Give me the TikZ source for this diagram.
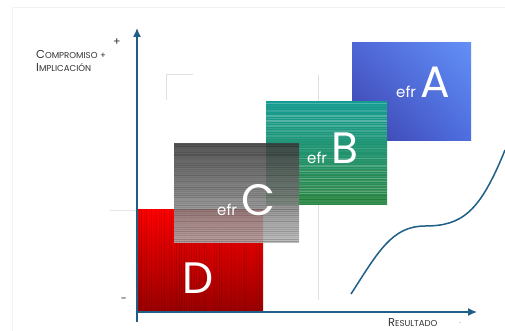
\documentclass[tikz,border=0pt]{standalone}
\usepackage{fontspec}
\setmainfont{Poppins}
\usetikzlibrary{arrows.meta,shadings}
\definecolor{axisc}{HTML}{1F5F85}
\definecolor{aUL}{HTML}{4F66D6}
\definecolor{aUR}{HTML}{6290F6}
\definecolor{aLL}{HTML}{3A3FA8}
\definecolor{aLR}{HTML}{4E6EE0}
\definecolor{bTop}{HTML}{149C92}
\definecolor{bBot}{HTML}{2C8846}
\definecolor{cTop}{HTML}{3E3E3E}
\definecolor{cBot}{HTML}{B4B4B4}
\definecolor{dTop}{HTML}{FF0000}
\definecolor{dBot}{HTML}{9A0000}
\newcommand{\fsc}[2]{{\fontsize{11.5}{12}\selectfont #1}{\fontsize{8.6}{9}\selectfont #2}}
\tikzset{
  panel/.style={inner sep=0pt, outer sep=0pt, draw=none},
  efrtxt/.style={text=white, inner sep=0pt, anchor=base west, font=\fontsize{15}{15}\selectfont},
  bigtxt/.style={text=white, inner sep=0pt, anchor=base west, font=\fontsize{44}{44}\selectfont},
  axis/.style={draw=axisc, line width=1.3pt, -{Latex[length=9pt,width=8pt]}},
  faint/.style={draw=black!12, line width=1pt},
  lbl/.style={inner sep=0pt, text=black!80, align=left}
}
\begin{document}
\begin{tikzpicture}[x=1pt,y=-1pt]
\useasboundingbox (0,0) rectangle (505,331);
\fill[white] (0,0) rectangle (505,331);
% faint frame and background marks
\draw[black!5] (12,331) -- (12,7) -- (505,7);
\draw[faint] (166,100) -- (166,75) -- (193,75);
\draw[faint] (318,75) -- (318,300);
\draw[black!10] (110,210) -- (137,210);
% box A
\node[panel, minimum width=119pt, minimum height=98pt, shading=bilinear interpolation,
  upper left=aUL, upper right=aUR, lower left=aLL, lower right=aLR] (A) at (411.5,92) {};
% box B
\node[panel, minimum width=121pt, minimum height=102pt, top color=bTop, bottom color=bBot] (B) at (326.5,153) {};
\pgfmathsetseed{7}
\foreach \y in {103.5,106,...,203.5}{
  \pgfmathsetmacro\o{0.28*rnd}
  \draw[white, opacity=\o, line width=1.1pt] (266,\y) -- (387,\y);
}
\foreach \y in {170,175,180,186,190,195,199}{
  \draw[green!35!black, opacity=0.25, line width=1pt] (266,\y) -- (387,\y);
}
% box D
\node[panel, minimum width=126pt, minimum height=102pt, top color=dTop, bottom color=dBot] (D) at (200,260) {};
\pgfmathsetseed{11}
\foreach \x in {139,141.5,...,262}{
  \pgfmathsetmacro\o{0.3*rnd}
  \draw[black!70!red, opacity=\o, line width=1pt] (\x,209) -- (\x,311);
}
% box C
\node[panel, minimum width=125pt, minimum height=98pt, top color=cTop, bottom color=cBot, fill opacity=0.87] (C) at (236.5,193) {};
\pgfmathsetseed{5}
\foreach \y in {145,147,...,241}{
  \pgfmathsetmacro\o{0.22*rnd}
  \draw[black, opacity=\o, line width=1pt] (174,\y) -- (299,\y);
}
% labels in boxes
\node[efrtxt] (efrA) at (396,98) {efr};
\node[bigtxt] (lA) at (420,98) {A};
\node[efrtxt] (efrB) at (307,164) {efr};
\node[bigtxt] (lB) at (331,164) {B};
\node[efrtxt] (efrC) at (217,215) {efr};
\node[bigtxt] (lC) at (241,215) {C};
\node[bigtxt, anchor=base] (lD) at (198,293) {D};
% axes
\coordinate (yb) at (137,322);
\coordinate (yt) at (137,28);
\coordinate (xl) at (137,312);
\coordinate (xr) at (477,312);
\draw[axis] (yb) -- (yt);
\draw[axis] (xl) -- (xr);
% axis labels
\node[lbl, anchor=center] (plus) at (117,42) {\fontsize{11}{11}\selectfont +};
\node[lbl, anchor=base west] (comp) at (36,59) {\fsc{C}{OMPROMISO} \fsc{}{+}};
\node[lbl, anchor=base west] (impl) at (36,72) {\fsc{I}{MPLICACIÓN}};
\node[lbl, anchor=center] (minus) at (124,300) {\fontsize{11}{11}\selectfont -};
\node[lbl, anchor=base west] (res) at (388,326) {\fsc{R}{ESULTADO}};
\node[lbl, anchor=center] (dot) at (460,323) {\fontsize{6}{6}\selectfont .};
% curve
\coordinate (c0) at (351,294);
\coordinate (c1) at (425,226);
\coordinate (c2) at (505,150);
\draw[axisc, line width=1.5pt] (c0) .. controls (378,252) and (392,226) .. (c1)
  .. controls (462,226) and (480,212) .. (c2);
\end{tikzpicture}
\end{document}
